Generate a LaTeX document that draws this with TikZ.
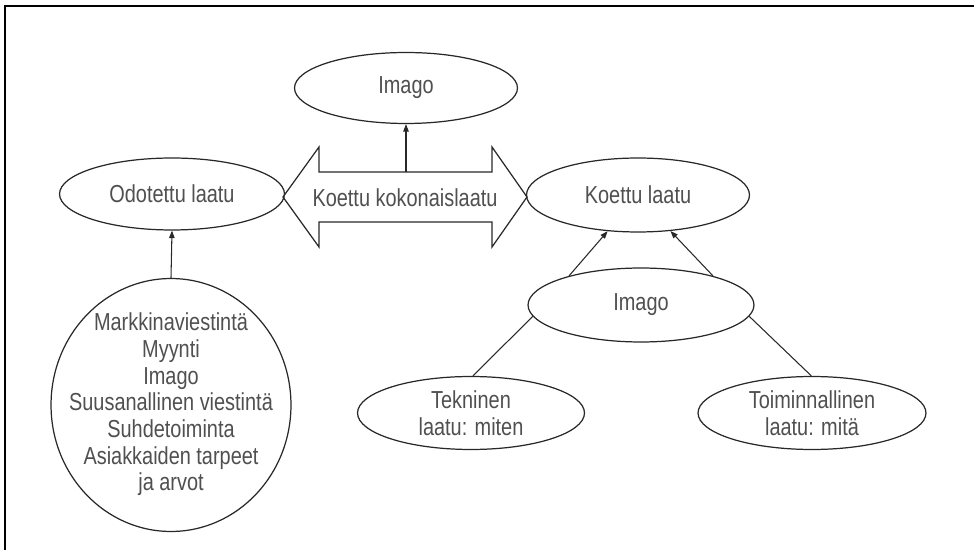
\documentclass[tikz,border=0pt]{standalone}
\usepackage{fontspec}
\setmainfont[FakeStretch=0.81]{Liberation Sans}
\usetikzlibrary{shapes.geometric,arrows.meta}
\definecolor{lineink}{RGB}{40,40,40}
\definecolor{textink}{RGB}{80,80,80}

\begin{document}
\begin{tikzpicture}[x=0.02cm,y=-0.02cm,
  font=\fontsize{14}{15.2}\selectfont,
  every node/.style={text=textink},
  oval/.style={ellipse,draw=lineink,line width=0.7pt,inner sep=0pt,align=center},
  link/.style={lineink,line width=0.6pt},
  arr/.style={link,-{Triangle[length=1.5mm,width=1.1mm]}},
  frameline/.style={black,line width=1.4pt}]

\useasboundingbox (0,0) rectangle (974,550);
\draw[frameline] (5,560) -- (5,6) -- (980,6);

% ---- top ----
\node[oval,minimum width=4.46cm,minimum height=1.42cm] (imagotop) at (406,88) {Imago};

% ---- middle row ----
\node[oval,minimum width=4.5cm,minimum height=1.44cm] (odotettu) at (172,194) {Odotettu laatu};
\node[oval,minimum width=4.46cm,minimum height=1.48cm] (koettu) at (638,195) {Koettu laatu};

% double arrow
\draw[link,line width=0.7pt] (283,197) -- (319,147) -- (319,172) -- (492,172) -- (492,147)
  -- (527,197) -- (492,247) -- (492,222) -- (319,222) -- (319,247) -- cycle;
\node (koko) at (405,198) {Koettu kokonaislaatu};
\coordinate (kokotop) at (406,172);

% ---- right side ----
\node[oval,minimum width=4.52cm,minimum height=1.48cm] (imago) at (641,305) {Imago};
\node[oval,minimum width=4.54cm,minimum height=1.46cm] (tekn) at (471,413) {Tekninen\\laatu: miten};
\node[oval,minimum width=4.56cm,minimum height=1.46cm] (toim) at (812,413) {Toiminnallinen\\laatu: mitä};

% ---- left: the circle ----
\node[oval,minimum width=4.8cm,minimum height=5.06cm] (tekijat) at (171,405)
  {\raisebox{-0.55em}{\makebox[0pt]{\smash{\begin{tabular}{@{}c@{}}
   Markkinaviestintä\\ Myynti\\ Imago\\ Suusanallinen viestintä\\
   Suhdetoiminta\\ Asiakkaiden tarpeet\\ ja arvot\end{tabular}}}}};

\draw[arr] (kokotop) -- (imagotop);
\draw[arr] (tekijat.north) -- (odotettu.south);
\draw[arr] (imago.158) -- (koettu.230);
\draw[arr] (imago.22) -- (koettu.312);
\draw[link] (imago.186) -- (tekn.87);
\draw[link] (imago.354) -- (toim.91);
\end{tikzpicture}
\end{document}
